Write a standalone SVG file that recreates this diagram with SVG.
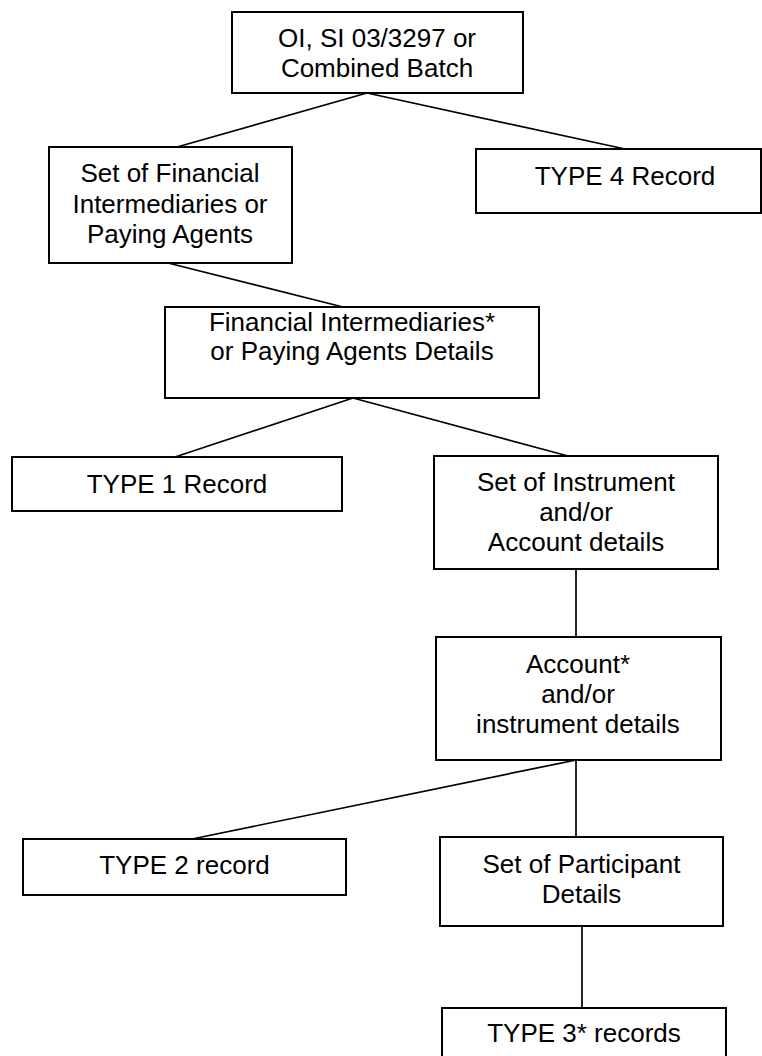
<svg xmlns="http://www.w3.org/2000/svg" width="762" height="1056" viewBox="0 0 762 1056">
<style>
.box{fill:#fff;stroke:#000;stroke-width:2}
.t{font-family:"Liberation Sans",Arial,sans-serif;font-size:26px;fill:#000;text-anchor:middle}
.c{stroke:#000;stroke-width:1.7;fill:none}
</style>
<rect width="762" height="1056" fill="#fff"/>
<g id="connectors">
<line class="c" x1="367" y1="93" x2="177" y2="147"/>
<line class="c" x1="367" y1="93" x2="625" y2="149"/>
<line class="c" x1="168" y1="263" x2="343" y2="307"/>
<line class="c" x1="353" y1="398" x2="175" y2="457"/>
<line class="c" x1="353" y1="398" x2="568" y2="456"/>
<line class="c" x1="576" y1="569" x2="576" y2="637"/>
<line class="c" x1="576" y1="760" x2="192" y2="839"/>
<line class="c" x1="576" y1="760" x2="576" y2="837"/>
<line class="c" x1="582" y1="926" x2="582" y2="1008"/>
</g>
<g id="batch">
<rect class="box" x="232" y="12" width="291" height="81"/>
<text class="t" x="377" y="47">OI, SI 03/3297 or</text>
<text class="t" x="377" y="77">Combined Batch</text>
</g>
<g id="set-fi">
<rect class="box" x="49" y="147" width="243" height="116"/>
<text class="t" x="170" y="182">Set of Financial</text>
<text class="t" x="170" y="213">Intermediaries or</text>
<text class="t" x="170" y="243">Paying Agents</text>
</g>
<g id="type4">
<rect class="box" x="476" y="149" width="285" height="64"/>
<text class="t" x="625" y="185">TYPE 4 Record</text>
</g>
<g id="fi-details">
<rect class="box" x="165" y="307" width="374" height="91"/>
<text class="t" x="352" y="331">Financial Intermediaries*</text>
<text class="t" x="352" y="360">or Paying Agents Details</text>
</g>
<g id="type1">
<rect class="box" x="12" y="457" width="330" height="54"/>
<text class="t" x="177" y="493">TYPE 1 Record</text>
</g>
<g id="set-instrument">
<rect class="box" x="434" y="456" width="284" height="113"/>
<text class="t" x="576" y="491">Set of Instrument</text>
<text class="t" x="576" y="521">and/or</text>
<text class="t" x="576" y="551">Account details</text>
</g>
<g id="account">
<rect class="box" x="436" y="637" width="285" height="123"/>
<text class="t" x="578" y="673">Account*</text>
<text class="t" x="578" y="703">and/or</text>
<text class="t" x="578" y="733">instrument details</text>
</g>
<g id="type2">
<rect class="box" x="23" y="839" width="323" height="56"/>
<text class="t" x="184.5" y="874">TYPE 2 record</text>
</g>
<g id="set-participant">
<rect class="box" x="440" y="837" width="283" height="89"/>
<text class="t" x="581.5" y="873">Set of Participant</text>
<text class="t" x="581.5" y="903">Details</text>
</g>
<g id="type3">
<rect class="box" x="442" y="1008" width="284" height="60"/>
<text class="t" x="584" y="1042">TYPE 3* records</text>
</g>
</svg>
